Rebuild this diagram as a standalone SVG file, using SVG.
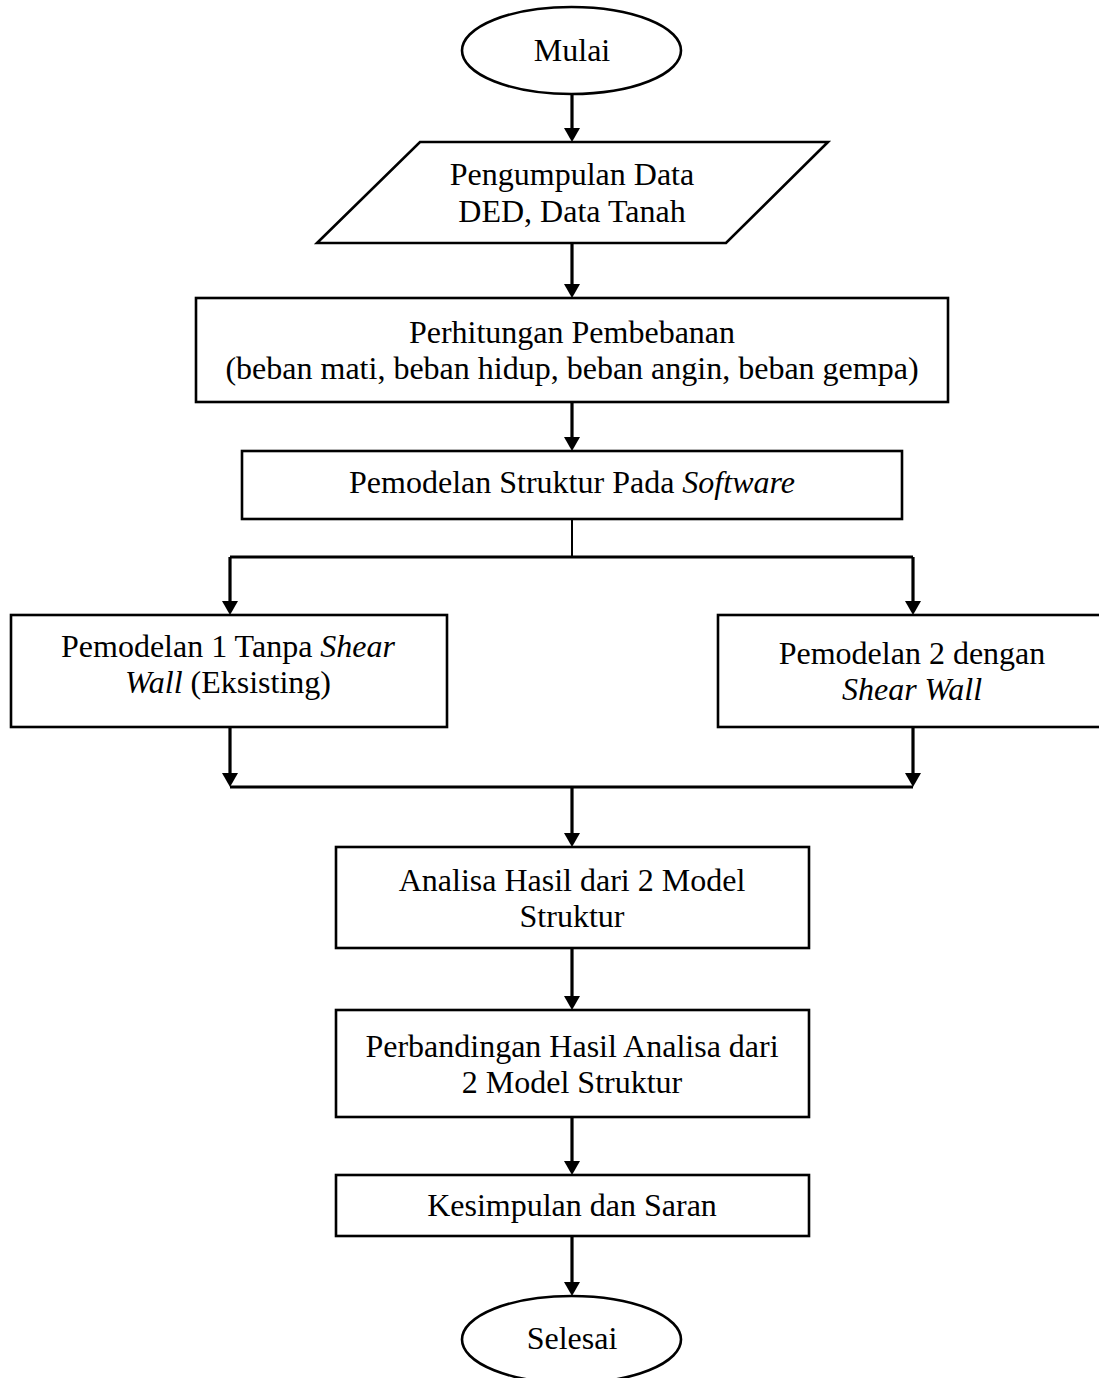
<svg xmlns="http://www.w3.org/2000/svg" width="1099" height="1378" viewBox="0 0 1099 1378">
<style>
.shape{fill:#fff;stroke:#000;stroke-width:2.6}
.t{font-family:"Liberation Serif","Times New Roman",serif;font-size:32px;fill:#000;text-anchor:middle}
.i{font-style:italic}
.c{fill:none;stroke:#000;stroke-width:3.2}
.thin{fill:none;stroke:#000;stroke-width:2}
.h{fill:#000;stroke:none}
</style>
<defs>
<polygon id="ah" points="-8,-14 8,-14 0,0"/>
</defs>
<rect x="0" y="0" width="1099" height="1378" fill="#fff"/>

<g id="connectors">
<line class="c" x1="572" y1="87" x2="572" y2="130"/>
<use href="#ah" class="h" x="572" y="142"/>
<line class="c" x1="572" y1="243" x2="572" y2="286"/>
<use href="#ah" class="h" x="572" y="298"/>
<line class="c" x1="572" y1="396" x2="572" y2="439"/>
<use href="#ah" class="h" x="572" y="451"/>
<line class="thin" x1="572" y1="519" x2="572" y2="557"/>
<line class="c" x1="230" y1="557" x2="913" y2="557"/>
<line class="c" x1="230" y1="557" x2="230" y2="603"/>
<use href="#ah" class="h" x="230" y="615"/>
<line class="c" x1="913" y1="557" x2="913" y2="603"/>
<use href="#ah" class="h" x="913" y="615"/>
<line class="c" x1="230" y1="727" x2="230" y2="775"/>
<use href="#ah" class="h" x="230" y="787"/>
<line class="c" x1="913" y1="727" x2="913" y2="775"/>
<use href="#ah" class="h" x="913" y="787"/>
<line class="c" x1="230" y1="787" x2="913" y2="787"/>
<line class="c" x1="572" y1="787" x2="572" y2="835"/>
<use href="#ah" class="h" x="572" y="847"/>
<line class="c" x1="572" y1="948" x2="572" y2="998"/>
<use href="#ah" class="h" x="572" y="1010"/>
<line class="c" x1="572" y1="1114" x2="572" y2="1163"/>
<use href="#ah" class="h" x="572" y="1175"/>
<line class="c" x1="572" y1="1236" x2="572" y2="1284"/>
<use href="#ah" class="h" x="572" y="1296"/>
</g>

<g id="mulai">
<ellipse class="shape" cx="571.5" cy="50.5" rx="109.5" ry="43.5"/>
<text class="t" x="572" y="61">Mulai</text>
</g>

<g id="pengumpulan">
<polygon class="shape" points="420,142 828,142 726,243 317,243"/>
<text class="t" x="572" y="185">Pengumpulan Data</text>
<text class="t" x="572" y="222">DED, Data Tanah</text>
</g>

<g id="perhitungan">
<rect class="shape" x="196" y="298" width="752" height="104"/>
<text class="t" x="572" y="343">Perhitungan Pembebanan</text>
<text class="t" x="572" y="379">(beban mati, beban hidup, beban angin, beban gempa)</text>
</g>

<g id="pemodelan">
<rect class="shape" x="242" y="451" width="660" height="68"/>
<text class="t" x="572" y="493">Pemodelan Struktur Pada <tspan class="i">Software</tspan></text>
</g>

<g id="model1">
<rect class="shape" x="11" y="615" width="436" height="112"/>
<text class="t" x="228" y="657">Pemodelan 1 Tanpa <tspan class="i">Shear</tspan></text>
<text class="t" x="228" y="693"><tspan class="i">Wall</tspan> (Eksisting)</text>
</g>

<g id="model2">
<rect class="shape" x="718" y="615" width="389" height="112"/>
<text class="t" x="912" y="664">Pemodelan 2 dengan</text>
<text class="t i" x="912" y="700">Shear Wall</text>
</g>

<g id="analisa">
<rect class="shape" x="336" y="847" width="473" height="101"/>
<text class="t" x="572" y="891">Analisa Hasil dari 2 Model</text>
<text class="t" x="572" y="927">Struktur</text>
</g>

<g id="perbandingan">
<rect class="shape" x="336" y="1010" width="473" height="107"/>
<text class="t" x="572" y="1057">Perbandingan Hasil Analisa dari</text>
<text class="t" x="572" y="1093">2 Model Struktur</text>
</g>

<g id="kesimpulan">
<rect class="shape" x="336" y="1175" width="473" height="61"/>
<text class="t" x="572" y="1216">Kesimpulan dan Saran</text>
</g>

<g id="selesai">
<ellipse class="shape" cx="571.5" cy="1339.5" rx="109.5" ry="43.5"/>
<text class="t" x="572" y="1349">Selesai</text>
</g>
</svg>
